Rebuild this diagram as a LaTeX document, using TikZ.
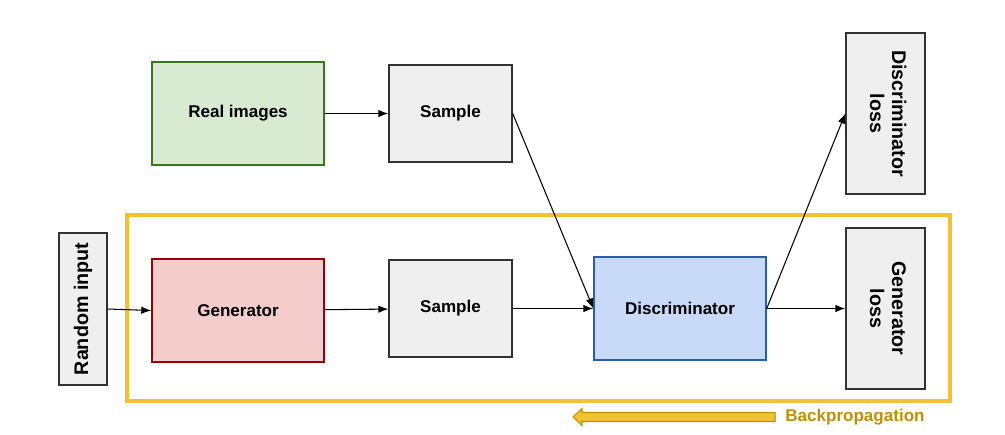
\documentclass[tikz,border=0pt]{standalone}
\usepackage{fontspec}
\setmainfont{Liberation Sans}
\usepackage{tikz}
\usetikzlibrary{arrows.meta,positioning}
\definecolor{GGray}{HTML}{EFEFEF}
\definecolor{GDark}{HTML}{333333}
\definecolor{GGreen}{HTML}{D9EAD3}
\definecolor{GGreenD}{HTML}{38761D}
\definecolor{GRed}{HTML}{F4CCCC}
\definecolor{GRedD}{HTML}{990000}
\definecolor{GBlue}{HTML}{C9DAF8}
\definecolor{GBlueD}{HTML}{2A5CAA}
\definecolor{GYellow}{HTML}{F1C232}
\definecolor{GYellowD}{HTML}{BF9000}

\begin{document}
\begin{tikzpicture}[
  node distance=1.3cm,
  n/.style={draw=GDark,line width=0.8pt,fill=GGray,
    minimum width=2.46cm,minimum height=1.94cm,align=center,
    font=\fontsize{9.7}{12.5}\selectfont\bfseries},
  big/.style={n,minimum width=3.44cm,minimum height=2.06cm},
  tall/.style={n,minimum width=1.58cm,minimum height=3.22cm,
    font=\fontsize{11.2}{12.5}\selectfont\bfseries},
  a/.style={-{Latex[length=2mm,width=1.5mm]},line width=0.6pt,color=black}
]
  \useasboundingbox (0,0) rectangle (20.1,-8.68);
  % training loop frame
  \draw[GYellow,line width=2.3pt] (2.54,-4.3) rectangle (19.0,-8.02);
  \node[big,fill=GGreen,draw=GGreenD] (real) at (4.76,-2.27) {Real images};
  \node[n] (samp1) at (9.01,-2.27) {Sample};
  \node[tall] (dloss) at (17.71,-2.27)
    {\rotatebox{-90}{\begin{tabular}{@{}c@{}}Discriminator\\loss\end{tabular}}};
  \node[tall,minimum width=0.96cm,minimum height=3.04cm] (rand) at (1.66,-6.18)
    {\rotatebox{90}{Random input}};
  \node[big,fill=GRed,draw=GRedD] (gen) at (4.76,-6.21) {Generator};
  \node[n] (samp2) at (9.01,-6.17) {Sample};
  \node[big,fill=GBlue,draw=GBlueD] (disc) at (13.6,-6.17) {Discriminator};
  \node[tall] (gloss) at (17.71,-6.17)
    {\rotatebox{-90}{\begin{tabular}{@{}c@{}}Generator\\loss\end{tabular}}};
  \draw[a] (real) -- (samp1);
  \draw[a] (samp1.east) -- (disc.west);
  \draw[a] (rand.east) -- (gen.west);
  \draw[a] (gen) -- (samp2);
  \draw[a] (samp2) -- (disc);
  \draw[a] (disc.east) -- (dloss.west);
  \draw[a] (disc) -- (gloss);
  % backpropagation arrow
  \draw[fill=GYellow,draw=GYellowD,line width=0.6pt] (11.46,-8.34) -- (11.64,-8.17)
    -- (11.64,-8.25) -- (15.5,-8.25) -- (15.5,-8.43) -- (11.64,-8.43)
    -- (11.64,-8.51) -- cycle;
  \node[anchor=west,inner sep=0pt,text=GYellowD,
    font=\fontsize{9.7}{12.5}\selectfont\bfseries] (bp) at (15.7,-8.34) {Backpropagation};
\end{tikzpicture}
\end{document}
